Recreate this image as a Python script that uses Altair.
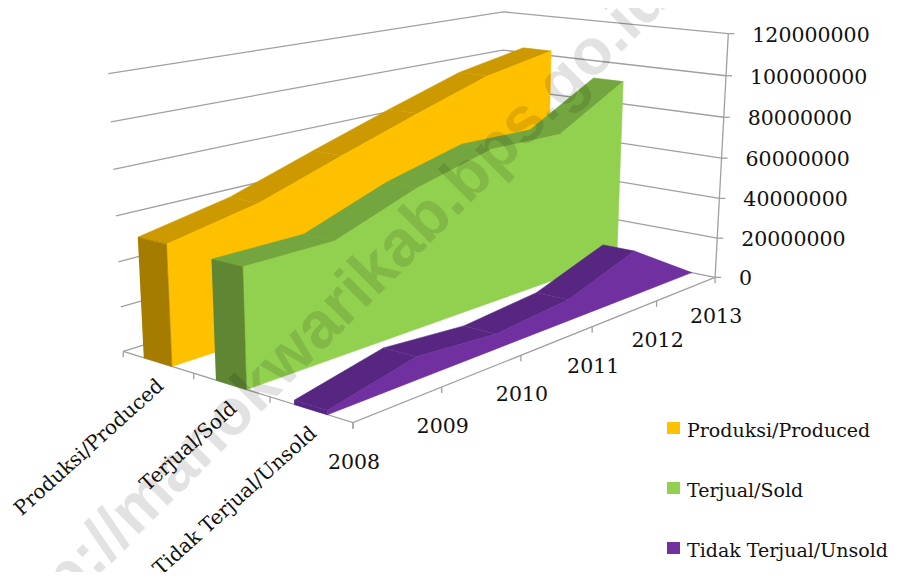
import altair as alt
import numpy as np
import pandas as pd

years = ["2008", "2009", "2010", "2011", "2012", "2013"]
series = ["Produksi/Produced", "Terjual/Sold", "Tidak Terjual/Unsold"]
legend_labels = ["Produksi/Produced", "Terjual/Sold", "Tidak Terjual/Unsold"]
produced = [53.0e6, 60.6e6, 72.9e6, 84.8e6, 96.0e6, 102.4e6]
sold = [51.3e6, 51.2e6, 64.5e6, 73.5e6, 72.4e6, 91.2e6]
unsold = [1.7e6, 10.0e6, 6.8e6, 10.0e6, 22.0e6, 0.0]
y_ticks = [0, 20000000, 40000000, 60000000, 80000000, 100000000, 120000000]
front_colors = ["#FFC000", "#92D050", "#7030A0"]
top_colors = ["#CC9A00", "#74A640", "#562680"]
end_colors = ["#A67C00", "#5E8633", "#542585"]
GRID = "#A0A0A0"
FONT = "DejaVu Serif"

# perspective camera of the 3-D box (series depth, year, value share)
CAMERA = np.array([
    [189.0761, 508.1200, -20.1138, 123.2035],
    [22.5768, -55.6881, -281.1859, 351.2856],
    [-0.115415, 0.262672, -0.048428, 1.0],
])
W, H = 881, 564


def pr(s, t, v):
    h = CAMERA @ np.array([s, t, v / 120e6, 1.0])
    return float(h[0] / h[2]), float(h[1] / h[2])


X = alt.Scale(domain=[8, 8 + W], range=[0, W], nice=False, zero=False)
Y = alt.Scale(domain=[8, 8 + H], range=[0, H], nice=False, zero=False)
xe = alt.X("x:Q", scale=X, axis=None)
ye = alt.Y("y:Q", scale=Y, axis=None)


def path(points, **mark):
    df = pd.DataFrame(points, columns=["x", "y"])
    df["i"] = range(len(df))
    return alt.Chart(df).mark_line(**mark).encode(x=xe, y=ye, order="i:Q")


def poly(points, color):
    return path(points, fill=color, stroke=color, strokeWidth=0.6, strokeJoin="round", interpolate="linear", opacity=1)


def text(rows, **mark):
    df = pd.DataFrame(rows, columns=["x", "y", "t"])
    return alt.Chart(df).mark_text(font=FONT, color="#111111", **mark).encode(x=xe, y=ye, text="t:N")


def faces_viewer(q):
    area = 0.0
    for a, b in zip(q, q[1:] + q[:1]):
        area += a[0] * b[1] - b[0] * a[1]
    return area > 0


layers = []
ts = [i / 5 for i in range(6)]

# walls: gridlines
for v in y_ticks:
    layers.append(path([pr(0, 0, v), pr(0, 1, v), pr(1, 1, v)], stroke=GRID, strokeWidth=1.3))
    a = pr(1, 1, v)
    layers.append(path([a, (a[0] + 6, a[1])], stroke=GRID, strokeWidth=1.3))
# floor axes + right axis
layers.append(path([pr(0, 0, 0), pr(1, 0, 0), pr(1, 1, 0)], stroke=GRID, strokeWidth=1.3))
layers.append(path([pr(1, 1, 0), pr(1, 1, 120e6)], stroke=GRID, strokeWidth=1.3))
for t in ts:
    a = pr(1, t, 0)
    layers.append(path([a, (a[0], a[1] + 6)], stroke=GRID, strokeWidth=1.3))
for k in range(4):
    a = pr(k / 3, 0, 0)
    layers.append(path([a, (a[0], a[1] + 6)], stroke=GRID, strokeWidth=1.3))

# ribbons
for i, vals in enumerate([produced, sold, unsold]):
    s0, s1 = (i + 0.3) / 3, (i + 0.7) / 3
    back = [pr(s0, t, v) for t, v in zip(ts, vals)]
    front = [pr(s1, t, v) for t, v in zip(ts, vals)]
    floor = [pr(s1, t, 0) for t in ts]
    for j in range(5):
        quad = [back[j], back[j + 1], front[j + 1], front[j]]
        if faces_viewer(quad):
            layers.append(poly(quad, top_colors[i]))
    layers.append(poly(front + floor[::-1], front_colors[i]))
    layers.append(poly([back[0], front[0], floor[0], pr(s0, 0, 0)], end_colors[i]))

# axis labels
rows = []
for t, lab in zip(ts, years):
    a = pr(1, t, 0)
    rows.append((a[0] + 1, a[1] + 40, lab))
layers.append(text(rows, fontSize=20.5, align="center", baseline="middle"))
rows = []
for v in y_ticks:
    a = pr(1, 1, v)
    rows.append((a[0] + 24, a[1] + 2, str(v)))
layers.append(text(rows, fontSize=20.5, align="left", baseline="middle"))
for k, lab in enumerate(series):
    a = pr((k + 0.5) / 3, 0, 0)
    layers.append(text([(a[0] + 3, a[1] + 21, lab)], fontSize=20, align="right", baseline="middle", angle=318))

# legend
for k, lab in enumerate(legend_labels):
    cy = 428 + 60 * k
    df = pd.DataFrame([{"x": 667, "x2": 680, "y": cy - 6, "y2": cy + 6}])
    layers.append(alt.Chart(df).mark_rect(color=front_colors[k]).encode(
        x=xe, x2="x2:Q", y=ye, y2="y2:Q"))
    layers.append(text([(687, cy + 3, lab)], fontSize=19, align="left", baseline="middle"))

# watermark
wm = pd.DataFrame([(326, 319, "http://manokwarikab.bps.go.id")], columns=["x", "y", "t"])
layers.append(alt.Chart(wm).mark_text(font="Liberation Sans", fontWeight="bold", fontSize=65, color="#000000",
                                      opacity=0.11, angle=315, align="center", baseline="middle").encode(
    x=xe, y=ye, text="t:N"))

chart = alt.layer(*layers).properties(
    width=W, height=H, padding=0, autosize=alt.AutoSizeParams(type="none"), background="white"
).configure_view(stroke=None)
chart.save("out.html", embed_options={"renderer": "svg", "actions": False})
